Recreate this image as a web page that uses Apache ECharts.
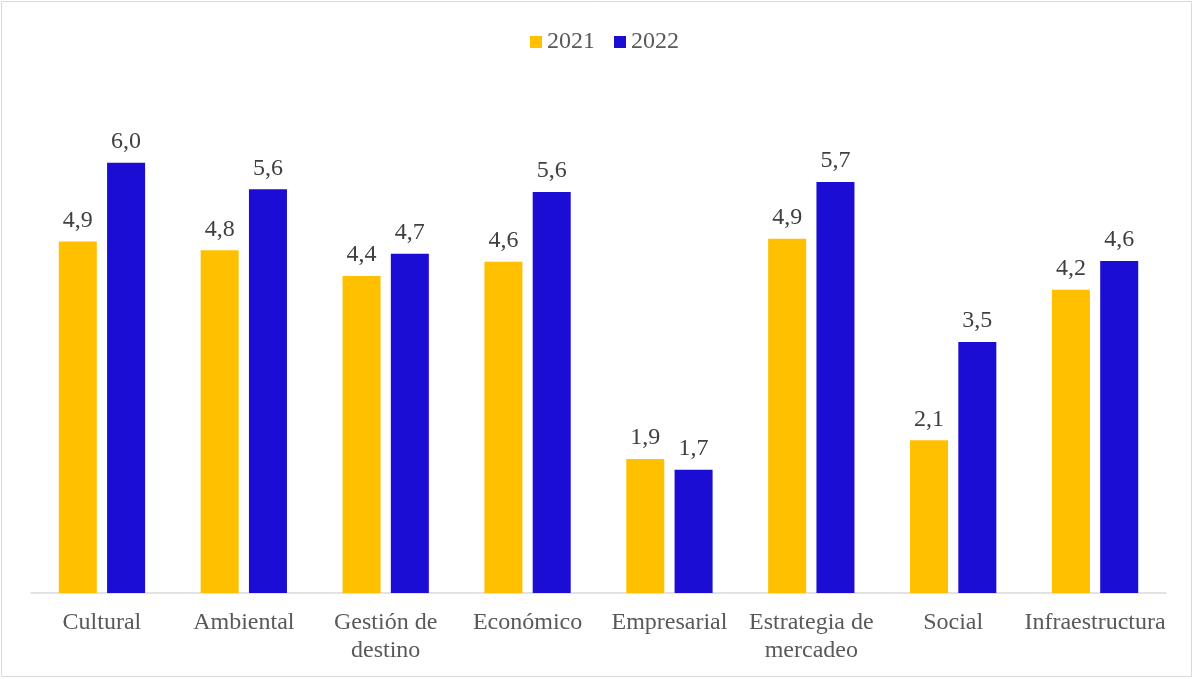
<!DOCTYPE html>
<html>
<head>
<meta charset="utf-8">
<script src="https://cdn.jsdelivr.net/npm/echarts@6/dist/echarts.min.js"></script>
<style>
  html, body { margin: 0; padding: 0; background: #fff; }
  #chart { width: 1194px; height: 679px; }
</style>
</head>
<body>
<div id="chart"></div>
<script>
var categories = ['Cultural', 'Ambiental', 'Gestión de\ndestino', 'Económico', 'Empresarial', 'Estrategia de\nmercadeo', 'Social', 'Infraestructura']
var data2021 = [4.90, 4.78, 4.42, 4.62, 1.87, 4.94, 2.13, 4.23]
var data2022 = [6.00, 5.63, 4.73, 5.59, 1.72, 5.73, 3.50, 4.63]
var legendData = ['2021', '2022']

var chart = echarts.init(document.getElementById('chart'))

var labelFmt = function (p) {
  return p.value.toFixed(1).replace('.', ',')
}

chart.setOption({
  animation: false,
  textStyle: { fontFamily: '"Liberation Serif", "Times New Roman", serif' },
  graphic: [{
    type: 'rect',
    shape: { x: 1.5, y: 1.5, width: 1190, height: 675 },
    style: { fill: 'none', stroke: '#d9d9d9', lineWidth: 1 },
    silent: true
  }],
  legend: {
    data: legendData,
    top: 25,
    left: 525,
    itemWidth: 12,
    itemHeight: 12,
    itemGap: 19,
    icon: 'rect',
    textStyle: { fontSize: 24, color: '#595959', fontFamily: '"Liberation Serif", serif' }
  },
  grid: {
    left: 31,
    right: 28,
    top: 91,
    bottom: 86,
    containLabel: false
  },
  xAxis: {
    type: 'category',
    data: categories,
    axisTick: { show: false },
    axisLine: { lineStyle: { color: '#d9d9d9', width: 1.5 } },
    axisLabel: {
      fontSize: 24,
      color: '#595959',
      margin: 16,
      lineHeight: 28,
      interval: 0,
      fontFamily: '"Liberation Serif", serif'
    }
  },
  yAxis: {
    type: 'value',
    min: 0,
    max: 7,
    show: false,
    splitLine: { show: false }
  },
  series: [{
    name: '2021',
    type: 'bar',
    data: data2021,
    barWidth: '26.8%',
    barGap: '27%',
    itemStyle: { color: '#FFC000' },
    label: {
      show: true,
      position: 'top',
      distance: 9,
      fontSize: 24,
      color: '#404040',
      formatter: labelFmt,
      fontFamily: '"Liberation Serif", serif'
    }
  }, {
    name: '2022',
    type: 'bar',
    data: data2022,
    barWidth: '26.8%',
    itemStyle: { color: '#1B0DD3' },
    label: {
      show: true,
      position: 'top',
      distance: 9,
      fontSize: 24,
      color: '#404040',
      formatter: labelFmt,
      fontFamily: '"Liberation Serif", serif'
    }
  }]
})
</script>
</body>
</html>
